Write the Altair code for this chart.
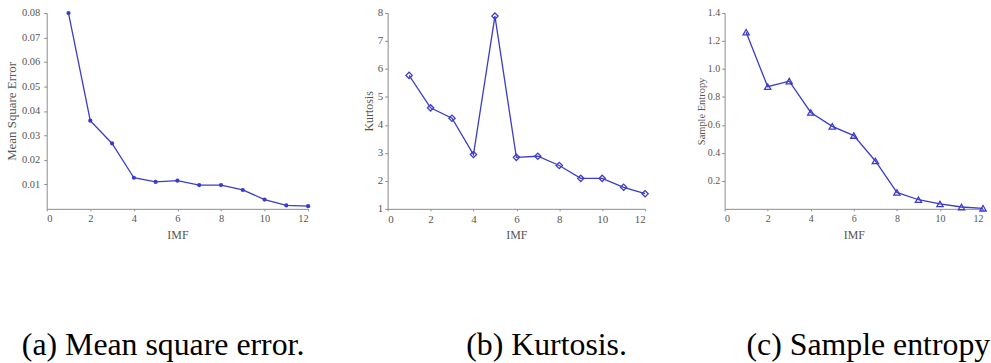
import altair as alt
import pandas as pd

# IMF index shared by all three panels
imf = list(range(1, 13))

# Per-IMF indicators
mse = [0.080, 0.036, 0.0267, 0.0127, 0.0110, 0.0115, 0.0097, 0.0097, 0.0077, 0.0038, 0.0014, 0.0011]
kurtosis = [5.77, 4.61, 4.24, 2.94, 7.89, 2.84, 2.88, 2.55, 2.09, 2.09, 1.77, 1.54]
sample_entropy = [1.263, 0.873, 0.913, 0.689, 0.590, 0.524, 0.342, 0.117, 0.065, 0.035, 0.013, 0.004]

# Axis tick values
x_ticks = [0, 2, 4, 6, 8, 10, 12]
mse_ticks = [0.01, 0.02, 0.03, 0.04, 0.05, 0.06, 0.07, 0.08]
kurtosis_ticks = [1, 2, 3, 4, 5, 6, 7, 8]
entropy_ticks = [0.2, 0.4, 0.6, 0.8, 1.0, 1.2, 1.4]

# Sub-figure captions
captions = ["(a) Mean square error.", "(b) Kurtosis.", "(c) Sample entropy."]

BLUE = "#3b3bcc"
SERIF = "'Liberation Serif', 'Times New Roman', serif"
AXIS_GRAY = "#8c8c8c"
LABEL_GRAY = "#555555"
PLOT_H = 197


def panel(values, y_title, y_domain, y_ticks, y_format, shape, filled, size,
          width, caption, caption_x, title_x, title_size, label_size,
          label_pad, caption_limit=0):
    df = pd.DataFrame({"IMF": imf, "value": values})
    x = alt.X(
        "IMF:Q",
        scale=alt.Scale(domain=[0, 12], nice=False, zero=False),
        axis=alt.Axis(values=x_ticks, title="IMF", titleFontSize=12,
                      titleY=26, titleBaseline="middle",
                      labelFontSize=label_size, labelPadding=3, tickSize=2),
    )
    y = alt.Y(
        "value:Q",
        scale=alt.Scale(domain=y_domain, nice=False, zero=False),
        axis=alt.Axis(values=y_ticks, format=y_format, title=y_title,
                      titleFontSize=title_size, titleX=title_x,
                      titleBaseline="middle", titleAngle=270,
                      labelFontSize=label_size, labelPadding=label_pad,
                      tickSize=3),
    )
    base = alt.Chart(df).encode(x=x, y=y)
    line = base.mark_line(color=BLUE, strokeWidth=1.3)
    points = base.mark_point(shape=shape, filled=filled, size=size, color=BLUE,
                             strokeWidth=1.3, opacity=1)
    text_kwargs = dict(font=SERIF, fontSize=32, align="left",
                       baseline="alphabetic", color="black")
    if caption_limit:
        text_kwargs.update(limit=caption_limit, ellipsis="\u200b")
    cap = alt.Chart(pd.DataFrame({"caption": [caption]})).mark_text(
        **text_kwargs
    ).encode(text="caption:N", x=alt.value(caption_x), y=alt.value(343.7))
    return alt.layer(line, points, cap).properties(width=width, height=PLOT_H)


chart_a = panel(mse, "Mean Square Error", [0, 0.08], mse_ticks, ".2f",
                "circle", True, 18, 263, captions[0], -25, -35, 13, 10.5, 4)
chart_b = panel(kurtosis, "Kurtosis", [1, 8], kurtosis_ticks, "d",
                "diamond", False, 40, 259, captions[1], 79, -19, 12, 11, 2)
chart_c = panel(sample_entropy, "Sample Entropy", [0, 1.4], entropy_ticks, ".1f",
                "triangle-up", False, 40, 260, captions[2], 22, -23, 10.5, 10, 2,
                caption_limit=250)

chart = alt.hconcat(chart_a, chart_b, chart_c, spacing=80, bounds="flush").properties(
    padding={"left": 6, "top": 6, "right": 0, "bottom": 0}
).configure_view(stroke=None).configure_axis(
    grid=False,
    domainColor=AXIS_GRAY,
    tickColor=AXIS_GRAY,
    labelColor=LABEL_GRAY,
    titleColor=LABEL_GRAY,
    labelFont=SERIF,
    titleFont=SERIF,
    titleFontWeight="normal",
)

chart.save("out.html", embed_options={"renderer": "svg", "actions": False})
